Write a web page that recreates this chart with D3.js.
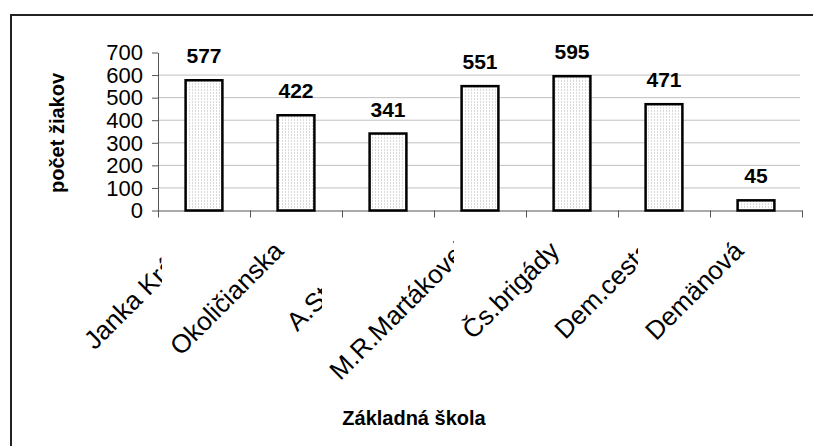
<!DOCTYPE html>
<html>
<head>
<meta charset="utf-8">
<script src="https://d3js.org/d3.v7.min.js"></script>
<style>
body { margin: 0; background: #fff; overflow: hidden; }
svg { display: block; }
text { font-family: "Liberation Sans", Arial, sans-serif; fill: #000; }
</style>
</head>
<body>
<div id="chart-area"></div>
<script>
var schools = ["Janka Kráľa", "Okoličianska", "A.Stodolu", "M.R.Martákovej", "Čs.brigády", "Dem.cesta", "Demänová"];
var pupils = [577, 422, 341, 551, 595, 471, 45];
var yTicks = [0, 100, 200, 300, 400, 500, 600, 700];
var yTitle = "počet žiakov";
var xTitle = "Základná škola";

// Excel cut the long labels off, px right of the band centre where they stop
var labelCut = { "Janka Kráľa": -42, "A.Stodolu": -66, "M.R.Martákovej": -26, "Dem.cesta": -26 };

var margines = { top: 52.5, left: 158 };
var width = 644;
var height = 158;

var svg = d3.select("#chart-area").append("svg")
    .attr("width", 813)
    .attr("height", 446);

//dotted fill like excel's 5% pattern
var pat = svg.append("defs").append("pattern")
    .attr("id", "dots")
    .attr("patternUnits", "userSpaceOnUse")
    .attr("width", 3)
    .attr("height", 3);
pat.append("rect").attr("width", 3).attr("height", 3).attr("fill", "#fff");
pat.append("rect").attr("x", 1).attr("y", 1).attr("width", 1).attr("height", 1).attr("fill", "#b4b4b4");

//outer frame, only top and left are inside the picture
svg.append("path")
    .attr("d", "M11,446V15H813")
    .attr("fill", "none")
    .attr("stroke", "#222")
    .attr("stroke-width", 2);

var g = svg.append("g")
    .attr("transform", "translate(" + margines.left + "," + margines.top + ")");

//x scale
var x = d3.scaleBand()
    .domain(schools)
    .range([0, width])
    .padding(0);

//category boundaries for the tick marks
var xEdge = d3.scaleLinear()
    .domain([0, schools.length])
    .range([0, width]);

//y scale
var y = d3.scaleLinear()
    .domain([0, 700])
    .range([height, 0]);

//gridlines
g.selectAll("line.grid")
    .data(yTicks.filter(function (d) { return d > 0 && d < 700; }))
    .enter()
    .append("line")
    .attr("class", "grid")
    .attr("x1", 0)
    .attr("x2", width - 2)
    .attr("y1", function (d) { return y(d); })
    .attr("y2", function (d) { return y(d); })
    .attr("stroke", "#c0c0c0")
    .attr("stroke-width", 1);

//y axis
var yAxisCall = d3.axisLeft(y)
    .tickValues(yTicks)
    .tickSize(6)
    .tickSizeOuter(0)
    .tickPadding(9);
var yAxisGroup = g.append("g").call(yAxisCall);
yAxisGroup.select(".domain").attr("stroke", "#555");
yAxisGroup.selectAll(".tick line").attr("stroke", "#555");
yAxisGroup.selectAll("text")
    .attr("font-size", "22px")
    .attr("font-family", "Liberation Sans, Arial, sans-serif")
    .attr("fill", "#000")
    .attr("dy", "0.33em");

//x axis
var xAxisCall = d3.axisBottom(xEdge)
    .tickValues(d3.range(schools.length + 1))
    .tickFormat("")
    .tickSize(7)
    .tickSizeOuter(0);
var xAxisGroup = g.append("g")
    .attr("transform", "translate(0," + height + ")")
    .call(xAxisCall);
xAxisGroup.select(".domain").attr("stroke", "#555");
xAxisGroup.selectAll(".tick line").attr("stroke", "#555");

//bars
var bw = x.bandwidth() * 0.4;
g.selectAll("rect.bar")
    .data(pupils)
    .enter()
    .append("rect")
    .attr("class", "bar")
    .attr("x", function (d, i) { return x(schools[i]) + (x.bandwidth() - bw) / 2; })
    .attr("y", function (d) { return y(d); })
    .attr("width", bw)
    .attr("height", function (d) { return height - y(d); })
    .attr("fill", "url(#dots)")
    .attr("stroke", "#000")
    .attr("stroke-width", 2.5);

//value labels
g.selectAll("text.val")
    .data(pupils)
    .enter()
    .append("text")
    .attr("class", "val")
    .attr("x", function (d, i) { return x(schools[i]) + x.bandwidth() / 2; })
    .attr("y", function (d) { return y(d) - 17; })
    .attr("text-anchor", "middle")
    .attr("font-size", "21px")
    .attr("font-weight", "bold")
    .text(function (d) { return d; });

//category labels, rotated and some of them cut off
var defs = svg.select("defs");
schools.forEach(function (name, i) {
    var cx = x(name) + x.bandwidth() / 2;
    var holder = g.append("g");
    if (labelCut[name] !== undefined) {
        defs.append("clipPath")
            .attr("id", "cut" + i)
            .append("rect")
            .attr("x", -200)
            .attr("y", 0)
            .attr("width", cx + labelCut[name] + 200)
            .attr("height", 500);
        holder.attr("clip-path", "url(#cut" + i + ")");
    }
    holder.append("text")
        .attr("transform", "translate(" + (cx - 11) + "," + (height + 42) + ") rotate(-45)")
        .attr("text-anchor", "end")
        .attr("font-size", "26px")
        .text(name);
});

//axis titles
svg.append("text")
    .attr("transform", "translate(64,133) rotate(-90)")
    .attr("text-anchor", "middle")
    .attr("font-size", "20px")
    .attr("font-weight", "bold")
    .text(yTitle);

svg.append("text")
    .attr("x", 414)
    .attr("y", 425)
    .attr("text-anchor", "middle")
    .attr("font-size", "20px")
    .attr("font-weight", "bold")
    .text(xTitle);
</script>
</body>
</html>
